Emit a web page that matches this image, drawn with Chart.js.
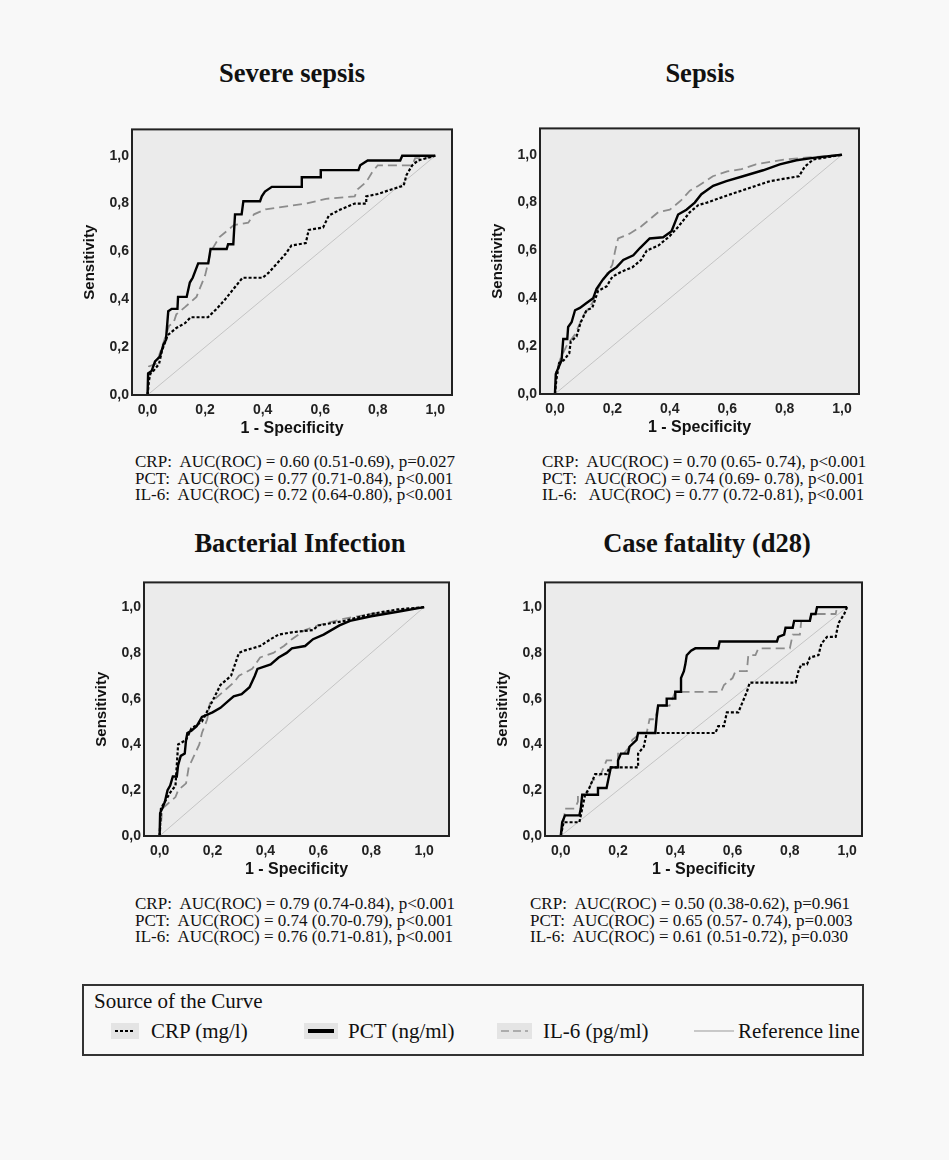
<!DOCTYPE html>
<html>
<head>
<meta charset="utf-8">
<script src="https://cdn.jsdelivr.net/npm/chart.js@4.4.1/dist/chart.umd.min.js"></script>
<style>
  html, body { margin:0; padding:0; background:#f8f8f8; }
  body { width:949px; height:1160px; position:relative; overflow:hidden; }
  .wrap { position:absolute; }
  .title { position:absolute; font-family:"Liberation Serif","Times New Roman",serif; font-weight:bold; font-size:26.5px; color:#111; white-space:nowrap; transform:translate(-50%,-50%); }
  .ann { position:absolute; font-family:"Liberation Serif","Times New Roman",serif; font-size:17px; line-height:16.6px; color:#111; white-space:pre; }
  .legend { position:absolute; left:82px; top:984px; width:782px; height:72px; border:2px solid #333; box-sizing:border-box; font-family:"Liberation Serif","Times New Roman",serif; color:#111; }
  .legend .hd { position:absolute; left:10px; top:3px; font-size:21px; }
  .legend .it { position:absolute; top:33px; font-size:21px; white-space:nowrap; }
  .legend canvas { position:absolute; }
</style>
</head>
<body>
<script>
// ---------------- DATA ----------------
const tickValues = [0, 0.2, 0.4, 0.6, 0.8, 1.0];
const panelTitles = ["Severe sepsis", "Sepsis", "Bacterial Infection", "Case fatality (d28)"];
const seriesNames = ["CRP (mg/l)", "PCT (ng/ml)", "IL-6 (pg/ml)", "Reference line"];
const referenceLine = [[0, 0], [1, 1]];

// Severe sepsis  [1 - specificity, sensitivity]
const severeCRP = [[0,0],[0.005,0.06],[0.01,0.09],[0.02,0.10],[0.04,0.13],[0.05,0.185],[0.07,0.25],[0.1,0.28],[0.13,0.30],[0.15,0.325],[0.21,0.325],[0.24,0.36],[0.27,0.40],[0.3,0.445],[0.33,0.49],[0.4,0.49],[0.42,0.51],[0.45,0.55],[0.48,0.59],[0.5,0.625],[0.55,0.635],[0.56,0.69],[0.61,0.70],[0.63,0.75],[0.67,0.775],[0.72,0.80],[0.76,0.80],[0.76,0.83],[0.8,0.84],[0.85,0.86],[0.89,0.875],[0.9,0.92],[0.92,0.96],[0.94,0.98],[0.97,0.99],[1,1]];
const severePCT = [[0,0],[0.002,0.09],[0.014,0.10],[0.026,0.14],[0.043,0.16],[0.055,0.21],[0.064,0.23],[0.072,0.35],[0.084,0.36],[0.104,0.36],[0.106,0.41],[0.136,0.41],[0.147,0.47],[0.157,0.49],[0.176,0.55],[0.211,0.55],[0.219,0.61],[0.275,0.61],[0.28,0.63],[0.298,0.63],[0.304,0.755],[0.327,0.755],[0.333,0.81],[0.391,0.81],[0.397,0.83],[0.408,0.85],[0.432,0.87],[0.536,0.87],[0.536,0.91],[0.602,0.91],[0.602,0.94],[0.733,0.94],[0.739,0.96],[0.765,0.98],[0.878,0.98],[0.885,1.0],[1,1]];
const severeIL6 = [[0,0],[0.005,0.12],[0.03,0.13],[0.05,0.20],[0.075,0.29],[0.09,0.30],[0.1,0.337],[0.13,0.367],[0.17,0.41],[0.2,0.50],[0.22,0.60],[0.23,0.62],[0.25,0.66],[0.28,0.69],[0.3,0.71],[0.35,0.72],[0.37,0.755],[0.41,0.776],[0.55,0.80],[0.62,0.82],[0.72,0.83],[0.73,0.86],[0.76,0.89],[0.78,0.93],[0.8,0.96],[0.92,0.96],[0.93,0.99],[0.96,0.99],[1,1]];

// Sepsis
const sepsisCRP = [[0,0],[0.005,0.06],[0.015,0.13],[0.03,0.14],[0.05,0.17],[0.055,0.22],[0.075,0.24],[0.09,0.30],[0.11,0.35],[0.13,0.36],[0.15,0.43],[0.18,0.45],[0.2,0.49],[0.23,0.51],[0.27,0.53],[0.3,0.56],[0.32,0.60],[0.36,0.62],[0.4,0.66],[0.43,0.70],[0.47,0.76],[0.5,0.79],[0.53,0.80],[0.6,0.83],[0.65,0.85],[0.7,0.87],[0.75,0.89],[0.8,0.90],[0.85,0.91],[0.87,0.95],[0.9,0.98],[1,1]];
const sepsisPCT = [[0,0],[0.003,0.084],[0.012,0.11],[0.023,0.14],[0.029,0.23],[0.043,0.23],[0.046,0.28],[0.058,0.30],[0.07,0.35],[0.087,0.36],[0.11,0.38],[0.133,0.40],[0.145,0.44],[0.168,0.48],[0.19,0.51],[0.215,0.53],[0.238,0.56],[0.273,0.58],[0.296,0.61],[0.33,0.65],[0.377,0.655],[0.406,0.68],[0.429,0.75],[0.458,0.77],[0.487,0.80],[0.51,0.835],[0.551,0.87],[0.597,0.89],[0.655,0.91],[0.725,0.935],[0.783,0.96],[0.841,0.977],[0.9,0.987],[1,1]];
const sepsisIL6 = [[0,0],[0.005,0.10],[0.02,0.15],[0.04,0.20],[0.07,0.25],[0.1,0.33],[0.13,0.38],[0.15,0.44],[0.18,0.50],[0.2,0.54],[0.21,0.60],[0.22,0.65],[0.26,0.67],[0.3,0.70],[0.33,0.73],[0.36,0.76],[0.4,0.77],[0.44,0.81],[0.47,0.85],[0.5,0.87],[0.55,0.91],[0.6,0.93],[0.65,0.94],[0.7,0.96],[0.8,0.98],[0.9,0.99],[1,1]];

// Bacterial Infection
const bactCRP = [[0,0],[0.005,0.12],[0.02,0.15],[0.04,0.19],[0.06,0.22],[0.07,0.40],[0.1,0.42],[0.12,0.47],[0.16,0.50],[0.2,0.59],[0.23,0.66],[0.27,0.70],[0.3,0.80],[0.32,0.81],[0.38,0.83],[0.42,0.86],[0.45,0.88],[0.5,0.89],[0.58,0.90],[0.6,0.92],[0.7,0.94],[0.8,0.97],[0.9,0.99],[1,1]];
const bactPCT = [[0,0],[0.002,0.10],[0.01,0.12],[0.02,0.15],[0.03,0.20],[0.04,0.22],[0.05,0.26],[0.065,0.26],[0.07,0.31],[0.08,0.35],[0.095,0.36],[0.1,0.42],[0.105,0.45],[0.12,0.46],[0.14,0.48],[0.15,0.50],[0.16,0.52],[0.2,0.54],[0.23,0.56],[0.26,0.59],[0.28,0.61],[0.31,0.62],[0.34,0.65],[0.36,0.70],[0.37,0.73],[0.42,0.75],[0.45,0.78],[0.48,0.80],[0.5,0.82],[0.55,0.83],[0.58,0.86],[0.62,0.88],[0.68,0.92],[0.72,0.94],[0.8,0.96],[0.85,0.97],[0.9,0.98],[1,1]];
const bactIL6 = [[0,0],[0.005,0.05],[0.01,0.12],[0.03,0.14],[0.06,0.17],[0.07,0.20],[0.1,0.23],[0.11,0.30],[0.13,0.35],[0.15,0.40],[0.16,0.45],[0.18,0.51],[0.19,0.58],[0.22,0.61],[0.25,0.64],[0.28,0.67],[0.3,0.70],[0.35,0.73],[0.38,0.78],[0.43,0.80],[0.47,0.83],[0.5,0.86],[0.55,0.90],[0.6,0.92],[0.7,0.95],[0.8,0.97],[0.9,0.985],[1,1]];

// Case fatality (d28)
const fatalCRP = [[0,0],[0.01,0.06],[0.065,0.06],[0.07,0.09],[0.085,0.18],[0.1,0.21],[0.11,0.24],[0.12,0.27],[0.16,0.27],[0.17,0.30],[0.27,0.30],[0.27,0.36],[0.29,0.39],[0.3,0.45],[0.54,0.45],[0.55,0.48],[0.57,0.48],[0.58,0.54],[0.62,0.54],[0.63,0.57],[0.65,0.63],[0.66,0.67],[0.82,0.67],[0.83,0.72],[0.84,0.75],[0.86,0.75],[0.87,0.78],[0.9,0.79],[0.91,0.84],[0.93,0.87],[0.96,0.87],[0.97,0.93],[0.99,0.97],[1,1]];
const fatalPCT = [[0,0],[0.005,0.06],[0.015,0.09],[0.065,0.09],[0.07,0.12],[0.075,0.18],[0.13,0.18],[0.13,0.21],[0.16,0.21],[0.165,0.24],[0.175,0.30],[0.2,0.30],[0.2,0.33],[0.21,0.36],[0.235,0.36],[0.24,0.39],[0.265,0.42],[0.27,0.45],[0.33,0.45],[0.335,0.52],[0.34,0.57],[0.37,0.57],[0.37,0.60],[0.4,0.60],[0.4,0.63],[0.42,0.63],[0.42,0.69],[0.43,0.72],[0.435,0.75],[0.44,0.79],[0.455,0.81],[0.47,0.82],[0.55,0.82],[0.555,0.85],[0.755,0.85],[0.76,0.87],[0.78,0.88],[0.785,0.91],[0.81,0.91],[0.815,0.94],[0.87,0.94],[0.875,0.97],[0.89,0.97],[0.895,1.0],[1,1]];
const fatalIL6 = [[0,0],[0.01,0.06],[0.015,0.12],[0.05,0.12],[0.06,0.15],[0.06,0.18],[0.09,0.18],[0.1,0.21],[0.11,0.24],[0.14,0.27],[0.16,0.33],[0.2,0.33],[0.2,0.36],[0.22,0.36],[0.24,0.39],[0.25,0.42],[0.28,0.45],[0.3,0.45],[0.31,0.51],[0.33,0.51],[0.34,0.57],[0.38,0.57],[0.39,0.60],[0.4,0.63],[0.56,0.63],[0.57,0.66],[0.6,0.69],[0.61,0.72],[0.65,0.72],[0.655,0.79],[0.68,0.79],[0.69,0.82],[0.8,0.82],[0.81,0.88],[0.835,0.88],[0.84,0.94],[0.87,0.94],[0.875,0.97],[0.96,0.97],[0.965,1.0],[1,1]];

// AUC annotation lines
const severeAUC = ["CRP:  AUC(ROC) = 0.60 (0.51-0.69), p=0.027", "PCT:  AUC(ROC) = 0.77 (0.71-0.84), p<0.001", "IL-6:  AUC(ROC) = 0.72 (0.64-0.80), p<0.001"];
const sepsisAUC = ["CRP:  AUC(ROC) = 0.70 (0.65- 0.74), p<0.001", "PCT:  AUC(ROC) = 0.74 (0.69- 0.78), p<0.001", "IL-6:   AUC(ROC) = 0.77 (0.72-0.81), p<0.001"];
const bactAUC = ["CRP:  AUC(ROC) = 0.79 (0.74-0.84), p<0.001", "PCT:  AUC(ROC) = 0.74 (0.70-0.79), p<0.001", "IL-6:  AUC(ROC) = 0.76 (0.71-0.81), p<0.001"];
const fatalAUC = ["CRP:  AUC(ROC) = 0.50 (0.38-0.62), p=0.961", "PCT:  AUC(ROC) = 0.65 (0.57- 0.74), p=0.003", "IL-6:  AUC(ROC) = 0.61 (0.51-0.72), p=0.030"];

// ---------------- LAYOUT ----------------
const panels = [
  { title: panelTitles[0], crp: severeCRP, pct: severePCT, il6: severeIL6, auc: severeAUC,
    frame: { l: 132, t: 126, r: 452, b: 395 }, xr: [-0.054, 1.058], ymax: 1.11, tc: [292, 73], ann: [135, 454] },
  { title: panelTitles[1], crp: sepsisCRP, pct: sepsisPCT, il6: sepsisIL6, auc: sepsisAUC,
    frame: { l: 540, t: 125, r: 859, b: 394 }, xr: [-0.052, 1.059], ymax: 1.11, tc: [700, 73], ann: [542, 454] },
  { title: panelTitles[2], crp: bactCRP, pct: bactPCT, il6: bactIL6, auc: bactAUC,
    frame: { l: 144, t: 579, r: 449, b: 836 }, xr: [-0.059, 1.094], ymax: 1.108, tc: [300, 543], ann: [135, 896] },
  { title: panelTitles[3], crp: fatalCRP, pct: fatalPCT, il6: fatalIL6, auc: fatalAUC,
    frame: { l: 545, t: 579, r: 862, b: 836 }, xr: [-0.055, 1.052], ymax: 1.108, tc: [707, 543], ann: [530, 896] }
];

const YW = 54, XH = 47, PAD_L = 62, PAD_T = 8, PAD_R = 6, PAD_B = 2;
const toXY = arr => arr.map(p => ({ x: p[0], y: p[1] }));
const fmt = v => Number(v).toFixed(1).replace('.', ',');

const frameBg = {
  id: 'frameBg',
  beforeDatasetsDraw(chart) {
    const a = chart.chartArea, c = chart.ctx;
    c.save(); c.fillStyle = '#ebebeb'; c.fillRect(a.left, a.top, a.right - a.left, a.bottom - a.top); c.restore();
  },
  afterDraw(chart) {
    const a = chart.chartArea, c = chart.ctx;
    c.save(); c.strokeStyle = '#222'; c.lineWidth = 2;
    c.strokeRect(a.left, a.top, a.right - a.left, a.bottom - a.top); c.restore();
  }
};

panels.forEach((p) => {
  const f = p.frame;
  const w = (f.r - f.l) + PAD_L + PAD_R;
  const h = (f.b - f.t) + PAD_T + XH + PAD_B;
  const wrap = document.createElement('div');
  wrap.className = 'wrap';
  wrap.style.left = (f.l - PAD_L) + 'px';
  wrap.style.top = (f.t - PAD_T) + 'px';
  wrap.style.width = w + 'px';
  wrap.style.height = h + 'px';
  const cv = document.createElement('canvas');
  cv.width = w; cv.height = h;
  cv.style.width = w + 'px'; cv.style.height = h + 'px';
  wrap.appendChild(cv);
  document.body.appendChild(wrap);

  const t = document.createElement('div');
  t.className = 'title'; t.textContent = p.title;
  t.style.left = p.tc[0] + 'px'; t.style.top = p.tc[1] + 'px';
  document.body.appendChild(t);

  const an = document.createElement('div');
  an.className = 'ann'; an.textContent = p.auc.join('\n');
  an.style.left = p.ann[0] + 'px'; an.style.top = p.ann[1] + 'px';
  document.body.appendChild(an);

  new Chart(cv, {
    type: 'scatter',
    data: {
      datasets: [
        { label: seriesNames[1], data: toXY(p.pct), showLine: true, borderColor: '#000', borderWidth: 2.4, pointRadius: 0, order: 0 },
        { label: seriesNames[0], data: toXY(p.crp), showLine: true, borderColor: '#000', borderWidth: 2.2, borderDash: [3, 2], pointRadius: 0, order: 1 },
        { label: seriesNames[2], data: toXY(p.il6), showLine: true, borderColor: '#8c8c8c', borderWidth: 1.8, borderDash: [9, 5], pointRadius: 0, order: 2 },
        { label: seriesNames[3], data: toXY(referenceLine), showLine: true, borderColor: '#c4c4c4', borderWidth: 1, pointRadius: 0, order: 3 }
      ]
    },
    options: {
      responsive: false, animation: false, devicePixelRatio: 1,
      layout: { padding: { left: PAD_L - YW, top: PAD_T, right: PAD_R, bottom: PAD_B } },
      plugins: { legend: { display: false }, tooltip: { enabled: false } },
      elements: { line: { tension: 0 } },
      scales: {
        x: {
          type: 'linear', min: p.xr[0], max: p.xr[1],
          afterBuildTicks: s => { s.ticks = tickValues.map(v => ({ value: v })); },
          afterFit: s => { s.height = XH; },
          grid: { display: false, drawTicks: false },
          border: { display: false },
          ticks: { callback: fmt, color: '#222', font: { family: 'Liberation Sans, Arial', size: 14, weight: 'bold' }, padding: 7, maxRotation: 0, autoSkip: false },
          title: { display: true, text: '1 - Specificity', color: '#111', font: { family: 'Liberation Sans, Arial', size: 16, weight: 'bold' }, padding: { top: 0, bottom: 4 } }
        },
        y: {
          type: 'linear', min: 0, max: p.ymax,
          afterBuildTicks: s => { s.ticks = tickValues.map(v => ({ value: v })); },
          afterFit: s => { s.width = YW; },
          grid: { display: false, drawTicks: false },
          border: { display: false },
          ticks: { callback: fmt, color: '#222', font: { family: 'Liberation Sans, Arial', size: 14, weight: 'bold' }, padding: 3, autoSkip: false },
          title: { display: true, text: 'Sensitivity', color: '#111', font: { family: 'Liberation Sans, Arial', size: 15, weight: 'bold' }, padding: { top: 3, bottom: 0 } }
        }
      }
    },
    plugins: [frameBg]
  });
});

// ---------------- LEGEND (HTML + small canvas swatches) ----------------
const legend = document.createElement('div');
legend.className = 'legend';
legend.innerHTML = '<div class="hd">Source of the Curve</div>';
document.body.appendChild(legend);
const legItems = [
  { name: seriesNames[0], sx: 27, sw: 28, bg: true, color: '#000', width: 2, dash: [3, 2], tx: 67 },
  { name: seriesNames[1], sx: 220, sw: 34, bg: true, color: '#000', width: 4, dash: [], tx: 264 },
  { name: seriesNames[2], sx: 413, sw: 35, bg: true, color: '#999', width: 1.5, dash: [8, 4], tx: 459 },
  { name: seriesNames[3], sx: 610, sw: 40, bg: false, color: '#999', width: 1, dash: [], tx: 654 }
];
legItems.forEach(it => {
  const c = document.createElement('canvas');
  c.width = it.sw; c.height = 16;
  c.style.left = it.sx + 'px'; c.style.top = '37px';
  legend.appendChild(c);
  const x = c.getContext('2d');
  if (it.bg) { x.fillStyle = '#e4e4e4'; x.fillRect(0, 0, it.sw, 16); }
  x.strokeStyle = it.color; x.lineWidth = it.width; x.setLineDash(it.dash);
  x.beginPath(); x.moveTo(it.bg ? 4 : 0, 8); x.lineTo(it.sw - (it.bg ? 4 : 0), 8); x.stroke();
  const d = document.createElement('div');
  d.className = 'it'; d.style.left = it.tx + 'px'; d.textContent = it.name;
  legend.appendChild(d);
});
</script>
</body>
</html>
